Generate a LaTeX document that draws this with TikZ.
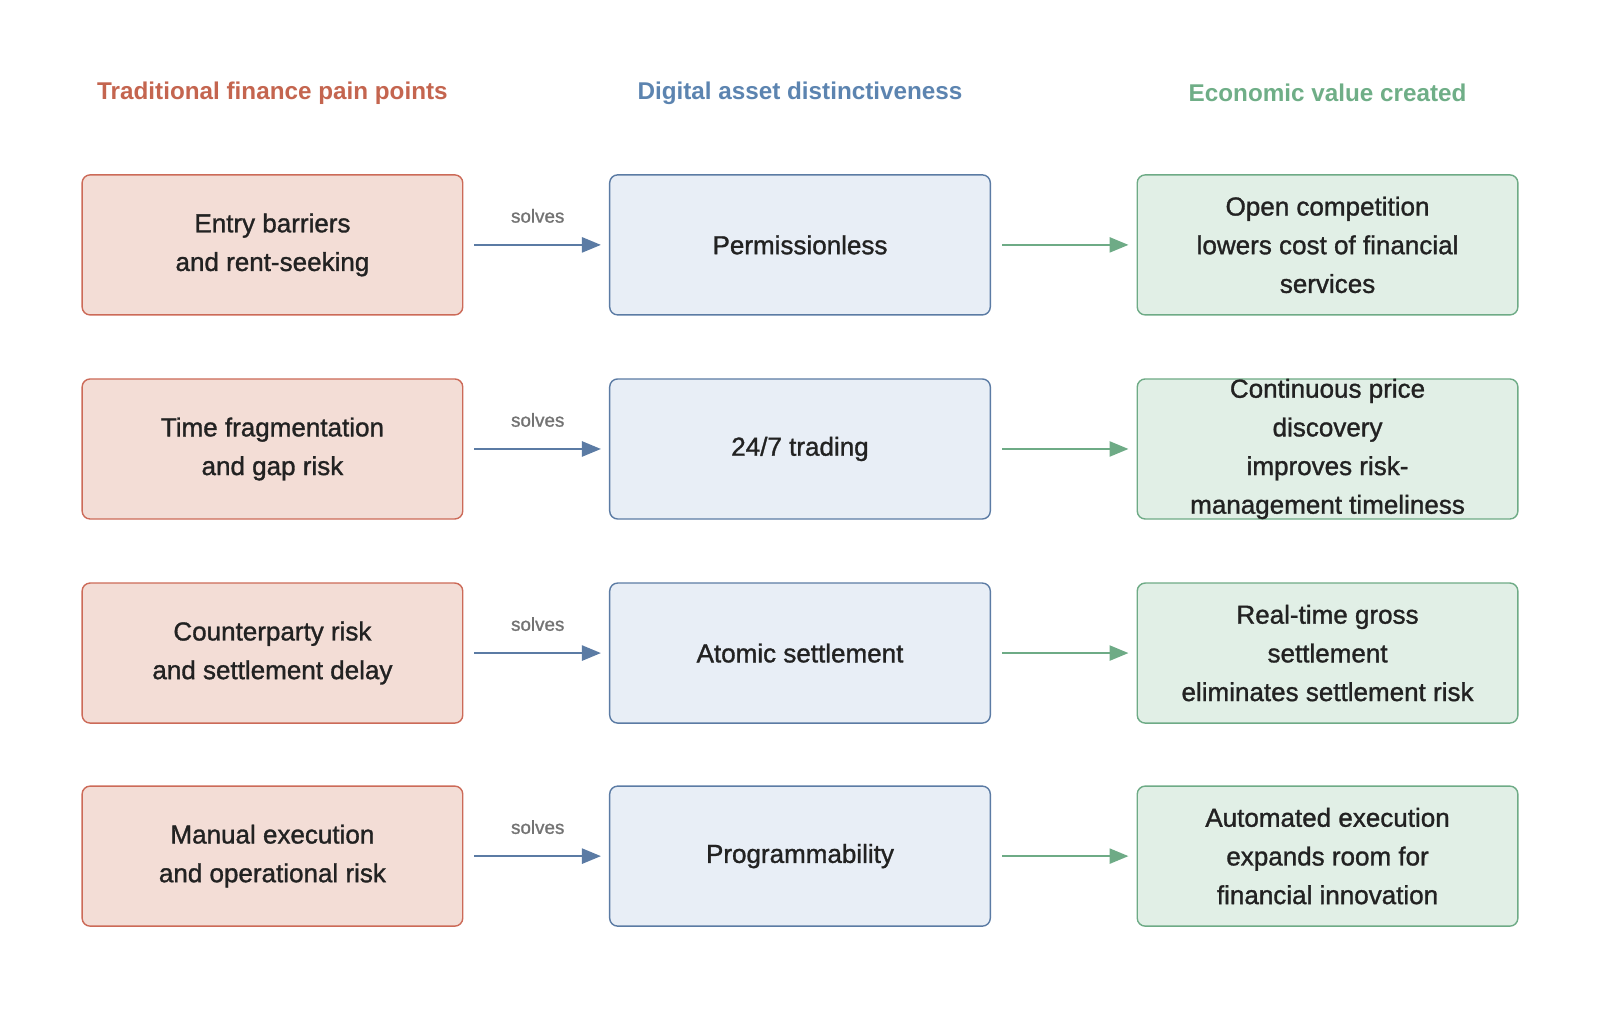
\documentclass[tikz,border=0pt]{standalone}
\usepackage{fontspec}
\setmainfont{Liberation Sans}
\newfontfamily\medfont[FakeBold=1.2]{Liberation Sans}
\usetikzlibrary{arrows.meta}
\definecolor{painfill}{HTML}{F3DDD6}
\definecolor{paindraw}{HTML}{CC6A58}
\definecolor{painhead}{HTML}{C4654F}
\definecolor{digfill}{HTML}{E8EEF6}
\definecolor{digdraw}{HTML}{5B7BA4}
\definecolor{dighead}{HTML}{5C84B0}
\definecolor{ecofill}{HTML}{E1EFE6}
\definecolor{ecodraw}{HTML}{6EAB86}
\definecolor{ecohead}{HTML}{6FAE87}
\definecolor{txt}{HTML}{222222}
\tikzset{
  box/.style={rectangle,rounded corners=0.16cm,minimum width=7.61cm,minimum height=2.8cm,
    align=center,text=txt,font=\medfont\fontsize{14.8}{22}\selectfont,line width=0.8pt},
  pain/.style={box,fill=painfill,draw=paindraw},
  dig/.style={box,fill=digfill,draw=digdraw},
  eco/.style={box,fill=ecofill,draw=ecodraw},
  head/.style={font=\fontsize{13.8}{16}\selectfont\bfseries},
  solve/.style={draw=digdraw,line width=1.4pt,-{Triangle[length=0.38cm,width=0.3cm]}},
  gain/.style={draw=ecodraw,line width=1.4pt,-{Triangle[length=0.38cm,width=0.3cm]}},
  lab/.style={text=gray!90!black,font=\medfont\fontsize{10.7}{12}\selectfont}
}
\begin{document}
\begin{tikzpicture}[x=0.020408cm,y=-0.020408cm]
\useasboundingbox (0,0) rectangle (1568,997.6);
\node[head,text=painhead] (h1) at (267,91) {Traditional finance pain points};
\node[head,text=dighead] (h2) at (784,91) {Digital asset distinctiveness};
\node[head,text=ecohead] (h3) at (1301,91) {Economic value created};
%
\node[pain] (p1) at (267,240) {Entry barriers\\and rent-seeking};
\node[dig] (d1) at (784,240) {Permissionless};
\node[eco] (e1) at (1301,240) {Open competition\\lowers cost of financial\\services};
\node[pain] (p2) at (267,440) {Time fragmentation\\and gap risk};
\node[dig] (d2) at (784,440) {24/7 trading};
\node[eco,inner ysep=-0.3cm] (e2) at (1301,440) {Continuous price\\discovery\\improves risk-\\management timeliness};
\node[pain] (p3) at (267,640) {Counterparty risk\\and settlement delay};
\node[dig] (d3) at (784,640) {Atomic settlement};
\node[eco] (e3) at (1301,640) {Real-time gross\\settlement\\eliminates settlement risk};
\node[pain] (p4) at (267,839) {Manual execution\\and operational risk};
\node[dig] (d4) at (784,839) {Programmability};
\node[eco] (e4) at (1301,839) {Automated execution\\expands room for\\financial innovation};
%
\foreach \i in {1,...,4}{
  \draw[solve] ([xshift=0.22cm]p\i.east) -- node[lab,above=0.3cm] {solves} ([xshift=-0.16cm]d\i.west);
  \draw[gain] ([xshift=0.22cm]d\i.east) -- ([xshift=-0.16cm]e\i.west);
}
\end{tikzpicture}
\end{document}
